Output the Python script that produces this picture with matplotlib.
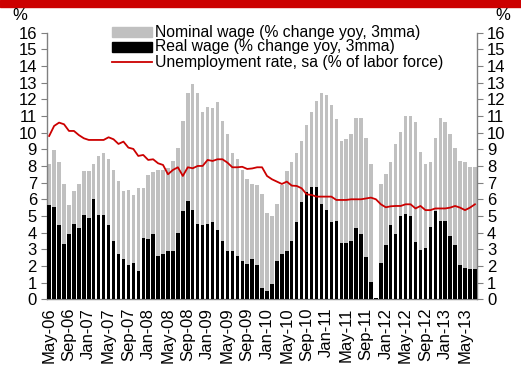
import matplotlib
matplotlib.use("Agg")
import matplotlib.pyplot as plt
from matplotlib.patches import Rectangle
from matplotlib.lines import Line2D
import numpy as np

plt.rcParams['font.family'] = ['Liberation Sans', 'DejaVu Sans']

months = ["May-06", "Sep-06", "Jan-07", "May-07", "Sep-07", "Jan-08", "May-08",
          "Sep-08", "Jan-09", "May-09", "Sep-09", "Jan-10", "May-10", "Sep-10",
          "Jan-11", "May-11", "Sep-11", "Jan-12", "May-12", "Sep-12", "Jan-13", "May-13"]

nominal = [8.12, 8.96, 8.22, 6.94, 5.66, 6.48, 6.94, 7.68, 7.68, 8.12,
           8.6, 8.78, 8.42, 7.76, 7.1, 6.48, 6.56, 6.28, 6.66, 6.66,
           7.48, 7.66, 7.76, 7.76, 7.86, 8.32, 9.06, 10.7, 12.36, 12.92,
           12.36, 11.25, 11.56, 11.46, 11.86, 10.72, 9.9, 8.8, 8.42, 7.76,
           7.22, 6.92, 6.84, 6.3, 5.16, 5.0, 5.72, 6.86, 7.68, 8.22,
           8.8, 9.52, 10.46, 11.26, 11.92, 12.36, 12.26, 11.66, 10.8, 9.52,
           9.62, 9.9, 10.9, 10.9, 9.7, 8.12, 0.0, 6.92, 7.5, 8.22,
           9.32, 10.06, 11.0, 11.0, 10.62, 8.86, 8.12, 8.22, 9.7, 10.9,
           10.62, 9.9, 9.06, 8.3, 8.22, 7.94, 7.94]

real = [5.64, 5.54, 4.44, 3.34, 3.9, 4.54, 4.26, 5.08, 4.9, 6.02,
        5.08, 5.08, 4.44, 3.52, 2.7, 2.4, 2.04, 2.16, 1.68, 3.7,
        3.6, 3.9, 2.6, 2.7, 2.88, 2.88, 3.98, 5.28, 5.92, 5.36,
        4.54, 4.44, 4.54, 4.62, 4.16, 3.52, 2.88, 2.88, 2.6, 2.32,
        2.14, 2.42, 2.04, 0.66, 0.48, 0.94, 2.32, 2.7, 2.88, 3.52,
        4.62, 5.82, 6.46, 6.76, 6.76, 5.72, 5.36, 4.62, 4.72, 3.36,
        3.36, 3.52, 4.26, 3.9, 2.52, 1.06, 0.05, 2.16, 3.26, 4.46,
        3.9, 5.0, 5.12, 5.0, 3.44, 2.98, 3.06, 4.36, 5.28, 4.72,
        4.72, 3.82, 3.26, 2.06, 1.86, 1.8, 1.8]

unemployment = [9.8, 10.4, 10.6, 10.5, 10.1, 10.1, 9.85, 9.66, 9.56, 9.56,
                9.56, 9.56, 9.72, 9.6, 9.32, 9.46, 9.1, 9.02, 8.6, 8.66,
                8.36, 8.4, 8.16, 8.06, 7.5, 7.76, 7.92, 7.4, 7.92, 7.86,
                8.0, 8.0, 8.36, 8.3, 8.4, 8.4, 8.2, 7.92, 7.92, 7.95,
                7.82, 7.85, 7.92, 7.92, 7.4, 7.2, 7.06, 6.92, 7.06, 6.82,
                6.8, 6.66, 6.3, 6.26, 6.16, 6.16, 6.16, 6.16, 5.96, 5.96,
                5.96, 6.0, 6.0, 6.0, 6.05, 6.1, 6.0, 5.7, 5.52, 5.58,
                5.6, 5.6, 5.7, 5.7, 5.45, 5.6, 5.35, 5.35, 5.45, 5.45,
                5.45, 5.5, 5.6, 5.5, 5.35, 5.5, 5.7]

yticks = list(range(0, 17))

W, H = 521, 366
fig = plt.figure(figsize=(W / 100, H / 100), dpi=100)
fig.patch.set_facecolor('white')

ax = fig.add_axes([46.7 / W, 1 - 299.3 / H, (477.4 - 46.7) / W, (299.3 - 32.6) / H])
x = np.arange(len(nominal))
ax.bar(x, nominal, width=0.7, color='#c0c0c0', zorder=2)
ax.bar(x, real, width=0.7, color='#000000', zorder=3)
ax.plot(x, unemployment, color='#cc0000', lw=1.3, zorder=4)

ax.set_xlim(-0.5, len(nominal) - 0.5)
ax.set_ylim(0, 16)
ax.set_yticks(yticks)
ax.set_yticklabels([str(v) for v in yticks], fontsize=12)
ax.tick_params(axis='y', which='both', left=True, right=True, labelleft=True,
               labelright=True, direction='out', length=4, width=0.8,
               color='#808080', pad=3)
ax.set_xticks(np.arange(0, len(nominal), 4))
ax.set_xticklabels(months, rotation=90, fontsize=12)
ax.tick_params(axis='x', length=0, pad=6)
for s in ['left', 'right', 'bottom']:
    ax.spines[s].set_color('#808080')
    ax.spines[s].set_linewidth(1.0)
ax.spines['top'].set_visible(False)
ax.set_facecolor('none')

# top red band
fig.add_artist(Rectangle((0, 1 - 7 / H), 1, 7 / H, transform=fig.transFigure,
                         color='#cc0000', zorder=0))

fig.text(20 / W, 1 - 15 / H, '%', fontsize=12, ha='center', va='center')
fig.text(503 / W, 1 - 15 / H, '%', fontsize=12, ha='center', va='center')

# legend
lx0, lx1 = 112 / W, 152 / W
rows = [32, 47, 62]
labels = ["Nominal wage (% change yoy, 3mma)", "Real wage (% change yoy, 3mma)",
          "Unemployment rate, sa (% of labor force)"]
fig.add_artist(Rectangle((lx0, 1 - (rows[0] + 4.5) / H), lx1 - lx0, 9 / H,
                         transform=fig.transFigure, color='#c0c0c0'))
fig.add_artist(Rectangle((lx0, 1 - (rows[1] + 4.5) / H), lx1 - lx0, 9 / H,
                         transform=fig.transFigure, color='#000000'))
fig.add_artist(Line2D([lx0, lx1], [1 - rows[2] / H, 1 - rows[2] / H],
                      transform=fig.transFigure, color='#cc0000', lw=1.3))
for r, lab in zip(rows, labels):
    fig.text(155 / W, 1 - r / H, lab, fontsize=11.3, ha='left', va='center')

fig.savefig('out.png', dpi=100)
